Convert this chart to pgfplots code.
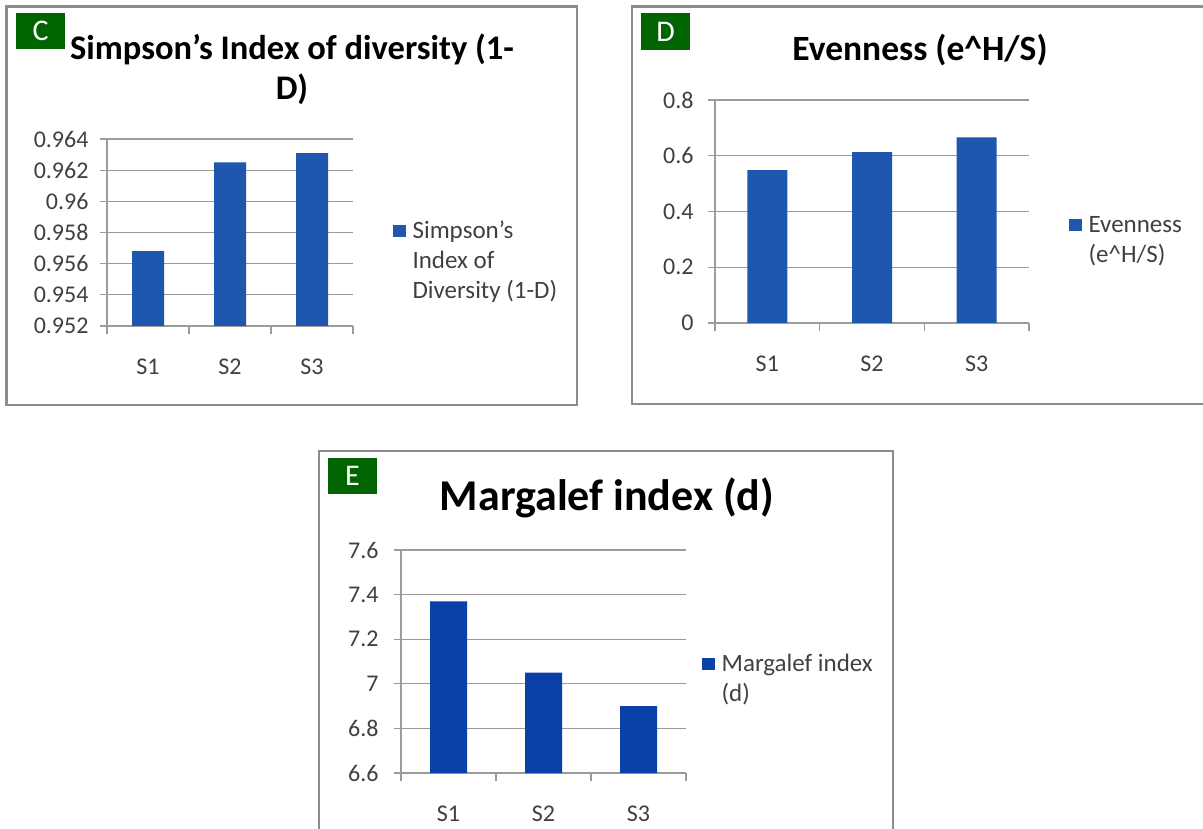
\documentclass[border=0pt]{standalone}
\usepackage{fontspec}
\setmainfont{Carlito}
\usepackage{pgfplots}
\pgfplotsset{compat=1.18}
\definecolor{barblue}{RGB}{31,86,174}
\definecolor{barblueE}{RGB}{10,64,168}
\definecolor{labgreen}{RGB}{0,100,0}
\definecolor{framegray}{RGB}{140,140,140}
\definecolor{gridgray}{RGB}{155,155,155}
\definecolor{txtgray}{RGB}{64,64,64}
\newcommand{\lgd}[1]{\begin{tabular}[t]{@{}l@{}}#1\end{tabular}}
\pgfplotsset{
 panel/.style={
  scale only axis, anchor=south west,
  xmin=0.5, xmax=3.5, xtick={1,2,3}, xticklabels={S1,S2,S3},
  minor xtick={0.5,1.5,2.5,3.5},
  major x tick style={draw=none},
  minor x tick style={gridgray, line width=1.2pt},
  minor tick length=8pt,
  tick align=outside,
  axis x line*=bottom, axis y line*=left,
  axis line style={-, gridgray, line width=1.2pt},
  ymajorgrids, grid style={gridgray, line width=1.2pt},
  major tick length=7pt, major y tick style={gridgray, line width=1.2pt},
  tick label style={font=\fontsize{24}{28}\selectfont, text=txtgray},
  /pgf/number format/assume math mode=true,
  xticklabel style={yshift=-22pt},
  scaled y ticks=false,
  ybar,
  legend style={draw=none, fill=none, inner sep=0pt, anchor=west, column sep=5pt,
    font=\fontsize{25}{30}\selectfont, text=txtgray},
  legend cell align=left,
  legend image code/.code={\fill[##1] (0pt,-8.5pt) rectangle (12.5pt,4pt);},
 }
}
\begin{document}
\begin{tikzpicture}[x=1pt,y=1pt]
\path[use as bounding box] (0pt,0pt) rectangle (1203pt,828pt);
% frames
\draw[framegray, line width=2.5pt] (6.5pt,821.5pt) rectangle (577pt,423pt);
\draw[framegray, line width=2.5pt] (632pt,821.5pt) rectangle (1215pt,424pt);
\draw[framegray, line width=2.5pt] (319pt,377pt) rectangle (893pt,-20pt);
% label boxes
\fill[labgreen] (16pt,815pt) rectangle (65pt,779pt);
\node[white, font=\fontsize{30}{34}\selectfont] at (40.5pt,797pt) {C};
\fill[labgreen] (641pt,815pt) rectangle (690pt,778pt);
\node[white, font=\fontsize{30}{34}\selectfont] at (665.5pt,796.5pt) {D};
\fill[labgreen] (328pt,370pt) rectangle (377pt,334pt);
\node[white, font=\fontsize{30}{34}\selectfont] at (352.5pt,352pt) {E};
% titles
\node[align=center, font=\fontsize{34.5}{40}\selectfont\bfseries] at (292pt,759pt) {Simpson’s Index of diversity (1-\\D)};
\node[font=\fontsize{35.5}{40}\selectfont\bfseries] at (920pt,778pt) {Evenness (e\textasciicircum H/S)};
\node[font=\fontsize{44}{50}\selectfont\bfseries] at (607pt,330pt) {Margalef index (d)};

% Panel C
\begin{axis}[panel, at={(107pt,502pt)}, width=246pt, height=187pt,
  ymin=0.952, ymax=0.964,
  ytick={0.952,0.954,0.956,0.958,0.96,0.962,0.964},
  yticklabels={0.952,0.954,0.956,0.958,0.96,0.962,0.964},
  yticklabel style={xshift=-8pt},
  bar width=32pt,
  legend style={at={(1.162,0.519)}}]
\addplot[fill=barblue, draw=none] coordinates {(1,0.9568) (2,0.9625) (3,0.9631)};
\addlegendentry{\lgd{Simpson’s\\Index of\\Diversity (1-D)}}
\end{axis}

% Panel D
\begin{axis}[panel, at={(715pt,505pt)}, width=314pt, height=223pt,
  ymin=0, ymax=0.8,
  ytick={0,0.2,0.4,0.6,0.8},
  yticklabels={0,0.2,0.4,0.6,0.8},
  yticklabel style={xshift=-11pt},
  bar width=40pt,
  legend style={at={(1.127,0.450)}}]
\addplot[fill=barblue, draw=none] coordinates {(1,0.548) (2,0.613) (3,0.666)};
\addlegendentry{\lgd{Evenness\\(e\textasciicircum H/S)}}
\end{axis}

% Panel E
\begin{axis}[panel, at={(401pt,55pt)}, width=285pt, height=223pt,
  ymin=6.6, ymax=7.6,
  ytick={6.6,6.8,7,7.2,7.4,7.6},
  yticklabels={6.6,6.8,7,7.2,7.4,7.6},
  yticklabel style={xshift=-12pt},
  bar width=37pt,
  legend style={at={(1.056,0.498)}}]
\addplot[fill=barblueE, draw=none] coordinates {(1,7.37) (2,7.05) (3,6.90)};
\addlegendentry{\lgd{Margalef index\\(d)}}
\end{axis}
\end{tikzpicture}
\end{document}
